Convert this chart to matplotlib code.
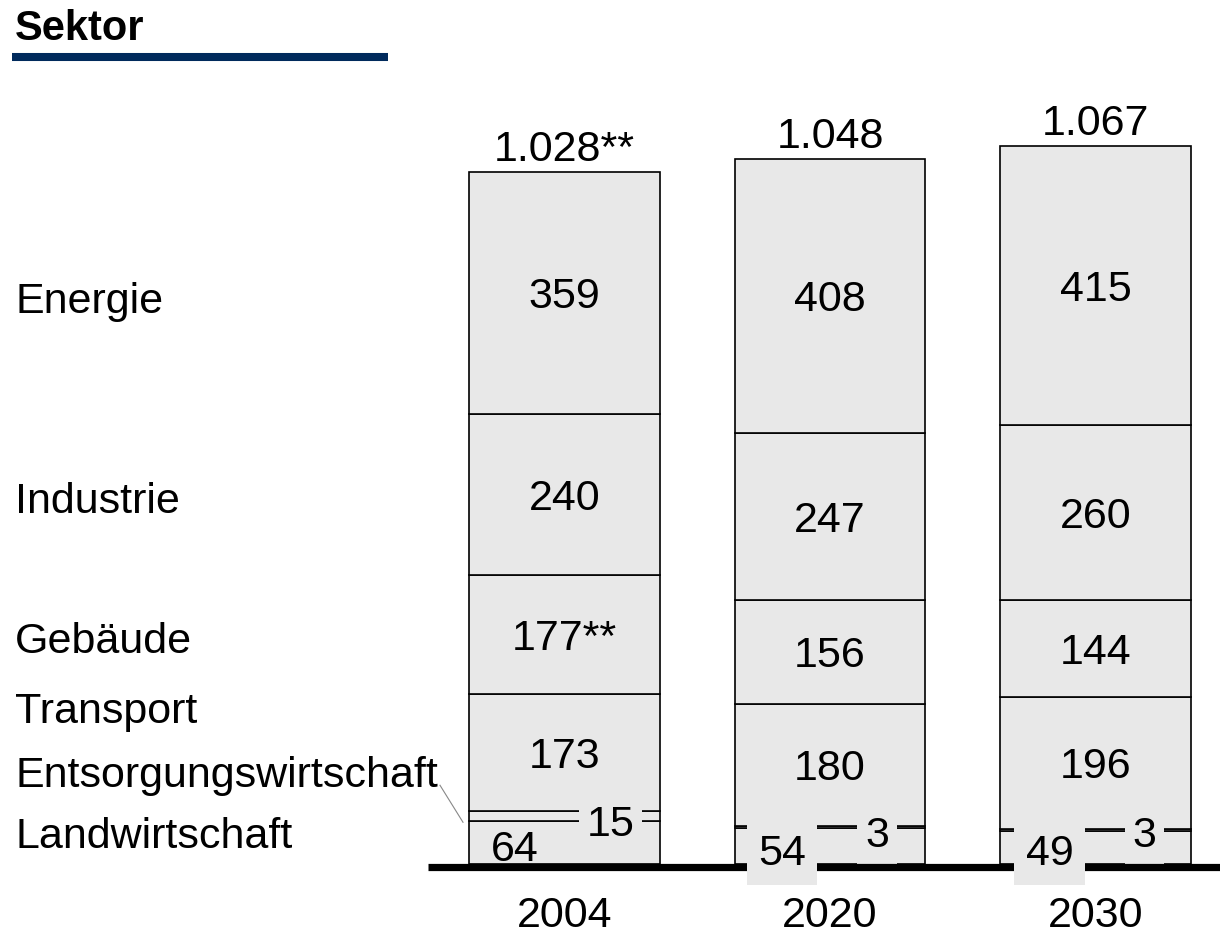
import matplotlib
matplotlib.use("Agg")
import matplotlib.pyplot as plt
from matplotlib.lines import Line2D

plt.rcParams['font.family'] = ['Liberation Sans', 'DejaVu Sans']

# data (bottom segments listed last)
years = ["2004", "2020", "2030"]
sectors = ["Energie", "Industrie", "Gebäude", "Transport",
           "Entsorgungswirtschaft", "Landwirtschaft"]
v2004 = [359, 240, 177, 173, 15, 64]
v2020 = [408, 247, 156, 180, 3, 54]
v2030 = [415, 260, 144, 196, 3, 49]
values = [v2004, v2020, v2030]
totals = ["1.028**", "1.048", "1.067"]
seg_labels = [
    ["359", "240", "177**", "173", "15", "64"],
    ["408", "247", "156", "180", "3", "54"],
    ["415", "260", "144", "196", "3", "49"],
]

FILL = "#e8e8e8"
NAVY = "#002a5c"
FS = 31

W, H = 1220, 935
fig = plt.figure(figsize=(W / 100, H / 100), dpi=100)
ax = fig.add_axes([0, 0, 1, 1])
# pixel mapping: x_px = 564.5 + 265.5*x ; y_px(from top) = 864 - 0.673*v
XC, XS = 564.5, 265.5
Y0, YS = 864, 0.673
ax.set_xlim(-XC / XS, (W - XC) / XS)
ax.set_ylim((Y0 - H) / YS, Y0 / YS)
ax.axis("off")


def label(x, v, s, **kw):
    # centre the cap height of the text on (x, v)
    kw.setdefault("ha", "center")
    kw.setdefault("fontsize", FS)
    ax.annotate(s, (x, v), xytext=(0, -0.358 * kw["fontsize"]),
                textcoords="offset points", va="baseline", **kw)


width = 0.716

for i, vals in enumerate(values):
    bottom = 0
    segs = list(zip(vals, seg_labels[i]))[::-1]  # bottom-up
    for k, (v, lab) in enumerate(segs):
        ax.bar(i, v, width, bottom=bottom, color=FILL, edgecolor="black",
               linewidth=1.2, zorder=2)
        if k >= 2:
            label(i, bottom + v / 2, lab, zorder=5)
        bottom += v
    ax.annotate(totals[i], (i, bottom), xytext=(0, 8), textcoords="offset points",
                ha="center", va="baseline", fontsize=FS)

# small bottom segments
box = dict(boxstyle="square,pad=0.18", fc=FILL, ec="none")
box_low = dict(boxstyle="square,pad=0.26", fc=FILL, ec="none")
label(-0.188, 28, seg_labels[0][5], zorder=6)
label(0.173, 65, seg_labels[0][4], zorder=3.5, bbox=box)
for i, (xl, xr) in zip([1, 2], [(-0.181, 0.177), (-0.173, 0.185)]):
    label(i + xl, 21, seg_labels[i][5], zorder=6, bbox=box_low)
    label(i + xr, 48, seg_labels[i][4], zorder=3.5, bbox=box)

# baseline
ax.plot([(428 - XC) / XS, (W - XC) / XS], [-4.5, -4.5], color="black",
        lw=5.2, solid_capstyle="butt", zorder=4, clip_on=False)

# year labels
for i, y in enumerate(years):
    label(i, -71, y)

# sector labels on the left
label_v = [842, 544, 336, 232, 137, 47]
for name, v in zip(sectors, label_v):
    label((15 - XC) / XS, v, name, ha="left")

# leader line for Entsorgungswirtschaft
ax.plot([(440 - XC) / XS, (463 - XC) / XS], [117, 62], color="#888888",
        lw=0.8, zorder=3)

# title
fig.text(15 / W, 1 - 29 / H, "Sektor", ha="left", va="center",
         fontsize=30, fontweight="bold")
fig.add_artist(Line2D([12 / W, 388 / W], [1 - 57 / H, 1 - 57 / H],
                      color=NAVY, lw=5.8, solid_capstyle="butt"))

fig.savefig("out.png", dpi=100)
